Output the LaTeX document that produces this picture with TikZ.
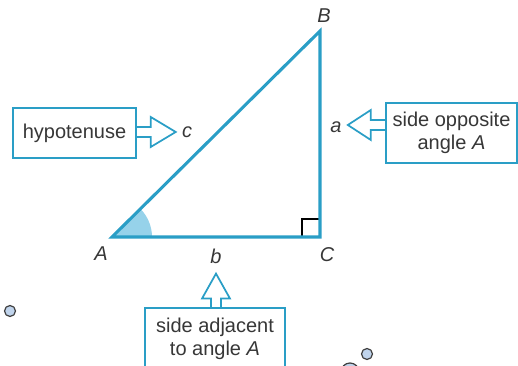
\documentclass[tikz,border=0pt]{standalone}
\usepackage{fontspec}
\setmainfont{Liberation Sans}
\usetikzlibrary{calc}
\definecolor{sideblue}{RGB}{42,158,198}
\definecolor{anglefill}{RGB}{150,210,234}
\definecolor{dotfill}{RGB}{192,212,236}
\definecolor{textgray}{RGB}{55,55,55}

\begin{document}
\begin{tikzpicture}[x=0.75pt,y=0.75pt,yscale=-1,xscale=1,
	every node/.style={inner sep=0.75pt,text=textgray,font=\fontsize{15}{17}\selectfont},
	callout/.style={draw=sideblue,line width=1.5pt,fill=white,align=center},
	blockarrow/.style={draw=sideblue,line width=1.3pt,line join=miter},
	vertex/.style={font=\fontsize{15}{17}\selectfont\itshape},
	handle/.style={draw=black!75,fill=dotfill,line width=0.9pt}]
	\useasboundingbox (0,0) rectangle (518,366);
	
	%Triangle corners
	\coordinate (A) at (112,237);
	\coordinate (B) at (320,31);
	\coordinate (C) at (320,237);
	%Shape: Arc [angle A]
	\fill [anglefill] (A) -- ($(A)+(40,0)$) arc (0:-44.7:40) -- cycle;
	%Shape: Right angle
	\draw [line width=1pt] ($(C)+(-18,0)$) -- ($(C)+(-18,-18)$) -- ($(C)+(0,-18)$);
	%Shape: Triangle
	\draw [sideblue,line width=2.3pt,line join=miter] (A) -- (B) -- (C) -- cycle;
	
	% Text Node
	\node [vertex] (lblA) at (101,254) {A};
	% Text Node
	\node [vertex] (lblB) at (324,16) {B};
	% Text Node
	\node [vertex] (lblC) at (327,255) {C};
	% Text Node
	\node [vertex] (sidea) at (336,127) {a};
	% Text Node
	\node [vertex] (sideb) at (216,256) {b};
	% Text Node
	\node [vertex] (sidec) at (187,132) {c};
	
	%Shape: Callouts
	\node [callout,minimum width=92.25pt,minimum height=37.5pt] (hyp) at (74.5,133) {hypotenuse};
	\node [callout,minimum width=98pt,minimum height=45pt] (opp) at (451.5,133) {side opposite\\angle \textit{A}};
	\node [callout,minimum width=105pt,minimum height=46.5pt] (adj) at (215,339) {side adjacent\\to angle \textit{A}};
	
	%Arrow tips
	\coordinate (tipc) at ($(sidec.west)+(-5,0)$);
	\coordinate (tipa) at ($(sidea.east)+(5,-2)$);
	\coordinate (tipb) at ($(sideb.south)+(0,9)$);
	
	%Block arrow [hypotenuse]
	\draw [blockarrow] ($(hyp.east |- tipc)+(0,-5)$) -- ($(tipc)+(-25,-5)$) -- ($(tipc)+(-25,-15)$) -- (tipc) -- ($(tipc)+(-25,15)$) -- ($(tipc)+(-25,5)$) -- ($(hyp.east |- tipc)+(0,5)$);
	%Block arrow [opposite]
	\draw [blockarrow] ($(opp.west |- tipa)+(0,-5)$) -- ($(tipa)+(23,-5)$) -- ($(tipa)+(23,-15)$) -- (tipa) -- ($(tipa)+(23,15)$) -- ($(tipa)+(23,5)$) -- ($(opp.west |- tipa)+(0,5)$);
	%Block arrow [adjacent]
	\draw [blockarrow] ($(adj.north -| tipb)+(-5,0)$) -- ($(tipb)+(-5,25)$) -- ($(tipb)+(-14,25)$) -- (tipb) -- ($(tipb)+(14,25)$) -- ($(tipb)+(5,25)$) -- ($(adj.north -| tipb)+(5,0)$);
	
	%Shape: Circles
	\draw [handle] (10,311) circle (5.5);
	\draw [handle] (367,354) circle (5.5);
	\draw [handle] (350,372) circle (9);
	
\end{tikzpicture}
\end{document}
